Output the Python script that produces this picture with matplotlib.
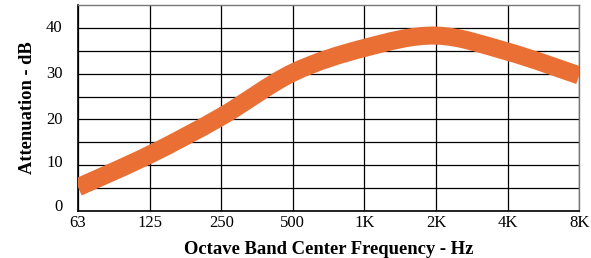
import numpy as np
import matplotlib
matplotlib.use("Agg")
import matplotlib.pyplot as plt
import matplotlib.transforms as mtransforms
from matplotlib.path import Path
from matplotlib.patches import PathPatch

categories = ["63", "125", "250", "500", "1K", "2K", "4K", "8K"]
attenuation = [5.2, 12.3, 20.6, 30.2, 35.6, 38.3, 34.8, 29.6]
y_ticks = [0, 10, 20, 30, 40]

plt.rcParams['font.family'] = ['Liberation Serif', 'DejaVu Serif']

fig = plt.figure(figsize=(5.91, 2.58), dpi=100)
ax = fig.add_axes([0.132, 0.182, 0.848, 0.799])

x = np.arange(len(categories), dtype=float)
y = np.array(attenuation, dtype=float)

# smooth curve through the data points (Catmull-Rom as cubic Bezier)
verts = [(x[0], y[0])]
codes = [Path.MOVETO]
n = len(x)
for i in range(n - 1):
    p0 = np.array([x[max(i - 1, 0)], y[max(i - 1, 0)]])
    p1 = np.array([x[i], y[i]])
    p2 = np.array([x[i + 1], y[i + 1]])
    p3 = np.array([x[min(i + 2, n - 1)], y[min(i + 2, n - 1)]])
    c1 = p1 + (p2 - p0) / 6.0
    c2 = p2 - (p3 - p1) / 6.0
    verts += [tuple(c1), tuple(c2), tuple(p2)]
    codes += [Path.CURVE4] * 3
patch = PathPatch(Path(verts, codes), facecolor='none', edgecolor='#EA6F35',
                  lw=13, capstyle='butt', zorder=3, clip_on=True)
ax.add_patch(patch)

ax.set_xlim(0, len(categories) - 1)
ax.set_ylim(0, 45)
ax.set_xticks(x)
ax.set_xticklabels(categories)
ax.set_yticks(y_ticks)
ax.set_yticks(np.arange(0, 45, 5), minor=True)
ax.tick_params(which='both', length=0, labelsize=12)
ax.tick_params(axis='y', pad=11)
ax.tick_params(axis='x', pad=3)
ax.grid(True, which='both', color='black', lw=0.9)
ax.set_axisbelow(True)
for s in ['left', 'bottom']:
    ax.spines[s].set_color('black')
    ax.spines[s].set_linewidth(1.2)
for s in ['top', 'right']:
    ax.spines[s].set_color('#777777')
    ax.spines[s].set_linewidth(1.0)

# nudge the lowest y labels upward as in the reference
fig.canvas.draw()
for lbl in ax.get_yticklabels():
    txt = lbl.get_text()
    dy = {"0": 6, "10": 4}.get(txt, 1.5)
    lbl.set_transform(lbl.get_transform() + mtransforms.ScaledTranslation(0, dy / 100, fig.dpi_scale_trans))

ax.set_ylabel("Attenuation - dB", fontsize=13.3, fontweight='bold', labelpad=7)
ax.set_xlabel("Octave Band Center Frequency - Hz", fontsize=13.4, fontweight='bold', labelpad=7)

fig.savefig("out.png", dpi=100)
